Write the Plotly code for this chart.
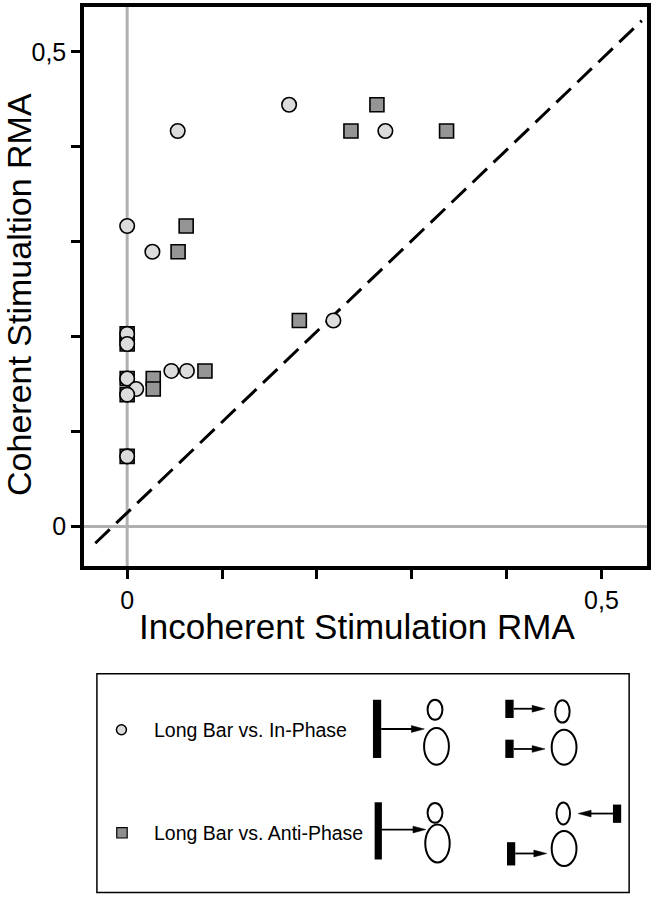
import plotly.graph_objects as go

# ---------------- data ----------------
in_phase_x = [0.1707, 0.0533, 0.2722, 0.0, 0.0266, 0.2174, 0.0, 0.0, 0.0466, 0.0630, 0.0, 0.0095, 0.0, 0.0]
in_phase_y = [0.4444, 0.4167, 0.4167, 0.3167, 0.2895, 0.2171, 0.2030, 0.1924, 0.1640, 0.1640, 0.1560, 0.1450, 0.1390, 0.0740]
anti_phase_x = [0.2633, 0.2359, 0.3367, 0.0622, 0.0537, 0.1815, 0.0, 0.0, 0.0, 0.0, 0.0, 0.0275, 0.0275, 0.0820]
anti_phase_y = [0.4444, 0.4167, 0.4167, 0.3167, 0.2895, 0.2171, 0.2030, 0.1924, 0.1560, 0.1390, 0.0740, 0.1560, 0.1450, 0.1640]
diag_x = [-0.0336, 0.5425]
diag_y = [-0.0175, 0.5330]
tick_vals = [0, 0.1, 0.2, 0.3, 0.4, 0.5]
tick_text = ["0", "", "", "", "", "0,5"]
x_range = [-0.0455, 0.548]
y_range = [-0.0415, 0.5474]
x_title = "Incoherent Stimulation RMA"
y_title = "Coherent Stimualtion RMA"
legend_labels = ["Long Bar vs. In-Phase", "Long Bar vs. Anti-Phase"]

FONT = "Liberation Sans, Arial, Helvetica, sans-serif"
W, H = 654, 900
PL, PR, PT, PB = 84, 651, 6, 566  # plot area in pixels


def xp(px):
    return (px - PL) / (PR - PL)


def yp(py):
    return (PB - py) / (PB - PT)


fig = go.Figure()

fig.add_trace(go.Scatter(
    x=diag_x, y=diag_y, mode="lines",
    line=dict(color="black", width=3, dash="20px,9px"),
    showlegend=False, hoverinfo="skip"))

fig.add_trace(go.Scatter(
    x=anti_phase_x, y=anti_phase_y, mode="markers", name=legend_labels[1],
    marker=dict(symbol="square", size=14, color="#959595",
                line=dict(color="black", width=1.6)),
    showlegend=False))

fig.add_trace(go.Scatter(
    x=in_phase_x, y=in_phase_y, mode="markers", name=legend_labels[0],
    marker=dict(symbol="circle", size=14.5, color="#dcdcdc",
                line=dict(color="black", width=1.6)),
    showlegend=False))

shapes = []
# zero reference lines
shapes.append(dict(type="line", xref="x", yref="paper", x0=0, x1=0, y0=0, y1=1,
                   line=dict(color="#b0b0b0", width=3), layer="below"))
shapes.append(dict(type="line", xref="paper", yref="y", x0=0, x1=1, y0=0, y1=0,
                   line=dict(color="#b0b0b0", width=3), layer="below"))

# legend box
shapes.append(dict(type="rect", xref="paper", yref="paper",
                   x0=xp(97), x1=xp(633), y0=yp(674), y1=yp(893),
                   line=dict(color="black", width=1.5)))
# legend markers
shapes.append(dict(type="circle", xref="paper", yref="paper",
                   x0=xp(116.7), x1=xp(126.7), y0=yp(725), y1=yp(735),
                   fillcolor="#dcdcdc", line=dict(color="black", width=1.5)))
shapes.append(dict(type="rect", xref="paper", yref="paper",
                   x0=xp(117), x1=xp(127.5), y0=yp(828), y1=yp(838.5),
                   fillcolor="#8f8f8f", line=dict(color="black", width=1.2)))


def bar(x0, x1, y0, y1):
    shapes.append(dict(type="rect", xref="paper", yref="paper",
                       x0=xp(x0), x1=xp(x1), y0=yp(y0), y1=yp(y1),
                       fillcolor="black", line=dict(width=0)))


def ellipse(cx, cy, rx, ry):
    shapes.append(dict(type="circle", xref="paper", yref="paper",
                       x0=xp(cx - rx), x1=xp(cx + rx), y0=yp(cy + ry), y1=yp(cy - ry),
                       line=dict(color="black", width=2)))


def arrow(xt, xh, y):
    # xt: tail x, xh: tip x (pixels)
    d = 1 if xh > xt else -1
    hl, hw = 13, 3.4
    base = xh - d * hl
    shapes.append(dict(type="line", xref="paper", yref="paper",
                       x0=xp(xt), x1=xp(base + d * 2), y0=yp(y), y1=yp(y),
                       line=dict(color="black", width=1.8)))
    path = "M {},{} L {},{} L {},{} Z".format(
        xp(xh), yp(y), xp(base), yp(y - hw), xp(base), yp(y + hw))
    shapes.append(dict(type="path", xref="paper", yref="paper", path=path,
                       fillcolor="black", line=dict(color="black", width=0.5)))


# row 1 schematic (in-phase)
bar(375, 383.3, 700, 758.3)
arrow(383.3, 426.7, 729.3)
ellipse(437.5, 710, 7.5, 10)
ellipse(439, 746.7, 12.5, 18.3)
bar(508.3, 516.7, 700, 718.3)
arrow(516.7, 548.3, 709)
ellipse(565.8, 711.7, 7.3, 11.2)
bar(508.3, 516.7, 740, 758.3)
arrow(516.7, 548.3, 749.3)
ellipse(567.5, 747.5, 12.5, 17.5)

# row 2 schematic (anti-phase)
bar(376.7, 384, 802.7, 860)
arrow(384, 428.3, 830)
ellipse(437.5, 813.3, 7.5, 10)
ellipse(440, 844, 12.3, 19)
ellipse(566.7, 814, 6.8, 11)
bar(616.7, 625, 805, 823.3)
arrow(616.7, 581.7, 814)
bar(510, 518.3, 842.7, 866)
arrow(518.3, 550, 854)
ellipse(567.5, 849, 12.5, 17.5)

annotations = [
    dict(text=x_title, xref="paper", yref="paper", x=xp(359), y=yp(627),
         xanchor="center", yanchor="middle", showarrow=False,
         font=dict(family=FONT, size=35, color="black")),
    dict(text=y_title, xref="paper", yref="paper", x=xp(19), y=yp(294),
         xanchor="center", yanchor="middle", showarrow=False, textangle=-90,
         font=dict(family=FONT, size=34, color="black")),
    dict(text=legend_labels[0], xref="paper", yref="paper", x=xp(152), y=yp(730),
         xanchor="left", yanchor="middle", showarrow=False,
         font=dict(family=FONT, size=19.5, color="black")),
    dict(text=legend_labels[1], xref="paper", yref="paper", x=xp(152), y=yp(833),
         xanchor="left", yanchor="middle", showarrow=False,
         font=dict(family=FONT, size=19.5, color="black")),
]

axis_common = dict(
    tickvals=tick_vals, ticktext=tick_text, ticks="outside", ticklen=9,
    tickwidth=3, tickcolor="black", showline=True, linecolor="black",
    linewidth=3.5, mirror=True, showgrid=False, zeroline=False,
    tickfont=dict(family=FONT, size=25, color="black"),
)

fig.update_layout(
    width=W, height=H, autosize=False,
    margin=dict(l=PL, r=W - PR, t=PT, b=H - PB, pad=0),
    paper_bgcolor="white", plot_bgcolor="white",
    xaxis=dict(range=x_range, **axis_common),
    yaxis=dict(range=y_range, **axis_common),
    shapes=shapes, annotations=annotations, showlegend=False,
)

fig.write_html(
    "out.html",
    config={"displayModeBar": False},
    post_script="document.body.style.margin='0';document.body.style.padding='0';"
                "document.body.style.overflow='hidden';",
)
